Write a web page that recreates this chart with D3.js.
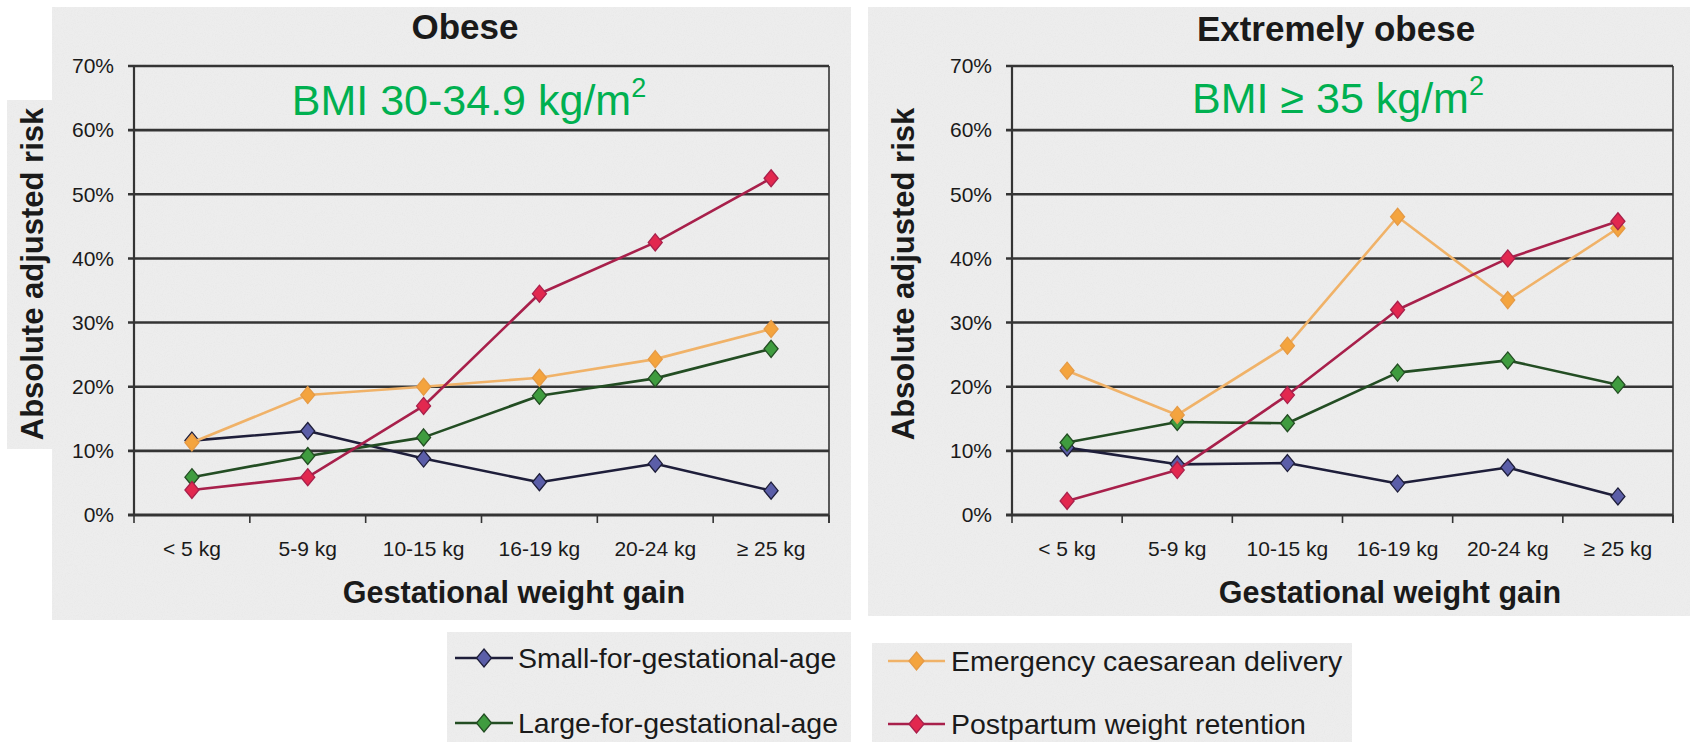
<!DOCTYPE html>
<html>
<head>
<meta charset="utf-8">
<script src="https://cdn.jsdelivr.net/npm/d3@7"></script>
<style>
  html, body { margin: 0; padding: 0; background: #ffffff; }
  svg { display: block; }
  text { font-family: "Liberation Sans", Arial, Helvetica, sans-serif; fill: #1a1a1a; }
</style>
</head>
<body>
<svg id="chart" width="1690" height="742"></svg>
<script>
// Gestational weight gain categories (x axis)
const categories = ["< 5 kg", "5-9 kg", "10-15 kg", "16-19 kg", "20-24 kg", "\u2265 25 kg"];

// Y axis ticks (absolute adjusted risk)
const yTicks = [0, 0.1, 0.2, 0.3, 0.4, 0.5, 0.6, 0.7];

// Outcome series names
const seriesNames = [
  "Small-for-gestational-age",
  "Large-for-gestational-age",
  "Emergency caesarean delivery",
  "Postpartum weight retention"
];

// Obese, BMI 30-34.9 kg/m2 (risk in %)
const obeseSGA  = [11.6, 13.1, 8.8, 5.1, 8.0, 3.8];
const obeseLGA  = [5.9, 9.2, 12.1, 18.6, 21.3, 25.9];
const obeseECS  = [11.3, 18.7, 20.0, 21.4, 24.3, 29.0];
const obesePWR  = [3.9, 5.9, 17.0, 34.5, 42.5, 52.5];

// Extremely obese, BMI >= 35 kg/m2 (risk in %)
const extremeSGA = [10.5, 7.9, 8.1, 4.9, 7.4, 2.9];
const extremeLGA = [11.3, 14.5, 14.3, 22.2, 24.1, 20.3];
const extremeECS = [22.5, 15.6, 26.4, 46.5, 33.5, 44.7];
const extremePWR = [2.2, 7.0, 18.7, 32.0, 40.0, 45.8];

// Series styling: line colour, marker fill
const lineColors   = ["#1e1e3a", "#234d23", "#f0b268", "#a8204b"];
const markerFills  = ["#5b5ea8", "#3f9c3f", "#f4a43e", "#e2284f"];
const markerStroke = ["#1e1e3a", "#234d23", "#e59a45", "#a8204b"];

const panels = [
  {
    title: "Obese",
    bmi: "BMI 30-34.9 kg/m",
    series: [obeseSGA, obeseLGA, obeseECS, obesePWR],
    bg: { x: 52, y: 7, w: 799, h: 613 },
    labelBox: { x: 7, y: 100, w: 45, h: 349 },
    plot: { x0: 134, x1: 829, y0: 515, y1: 66 },
    titleX: 465, titleY: 39,
    bmiX: 469, bmiY: 115,
    yLabelX: 43,
    xTitleX: 514
  },
  {
    title: "Extremely obese",
    bmi: "BMI \u2265 35 kg/m",
    series: [extremeSGA, extremeLGA, extremeECS, extremePWR],
    bg: { x: 868, y: 7, w: 822, h: 609 },
    labelBox: null,
    plot: { x0: 1012, x1: 1673, y0: 515, y1: 66 },
    titleX: 1336, titleY: 41,
    bmiX: 1338, bmiY: 113,
    yLabelX: 914,
    xTitleX: 1390
  }
];

const svg = d3.select("#chart");

// Paper grain texture for the grey panels
const defs = svg.append("defs");
const grain = defs.append("filter").attr("id", "grain").attr("x", 0).attr("y", 0).attr("width", 1).attr("height", 1);
grain.append("feTurbulence").attr("type", "fractalNoise").attr("baseFrequency", 0.9).attr("numOctaves", 2).attr("seed", 4).attr("result", "noise");
grain.append("feColorMatrix").attr("in", "noise").attr("type", "matrix")
  .attr("values", "0 0 0 0 0.55  0 0 0 0 0.55  0 0 0 0 0.55  0 0 0 -1.3 0.75");

function paperRect(g, x, y, w, h) {
  g.append("rect").attr("x", x).attr("y", y).attr("width", w).attr("height", h).attr("fill", "#ededed");
  g.append("rect").attr("x", x).attr("y", y).attr("width", w).attr("height", h)
    .attr("fill", "#000").attr("filter", "url(#grain)").attr("opacity", 0.18);
}

const diamond = (hw, hh) => `M0,${-hh}L${hw},0L0,${hh}L${-hw},0Z`;

panels.forEach(p => {
  const g = svg.append("g");
  paperRect(g, p.bg.x, p.bg.y, p.bg.w, p.bg.h);
  if (p.labelBox) paperRect(g, p.labelBox.x, p.labelBox.y, p.labelBox.w, p.labelBox.h);

  const x = d3.scaleBand().domain(categories).range([p.plot.x0, p.plot.x1]).padding(0);
  const y = d3.scaleLinear().domain([0, 0.7]).range([p.plot.y0, p.plot.y1]);
  const cx = c => x(c) + x.bandwidth() / 2;

  // Horizontal gridlines (extending slightly past the axis as tick marks)
  g.append("g").selectAll("line").data(yTicks).join("line")
    .attr("x1", p.plot.x0 - 6).attr("x2", p.plot.x1)
    .attr("y1", d => y(d)).attr("y2", d => y(d))
    .attr("stroke", "#343434").attr("stroke-width", d => d === 0 ? 3 : 2.6);

  // Left and right plot borders
  g.append("line").attr("x1", p.plot.x0).attr("x2", p.plot.x0)
    .attr("y1", y(0.7)).attr("y2", y(0)).attr("stroke", "#343434").attr("stroke-width", 2.2);
  g.append("line").attr("x1", p.plot.x1).attr("x2", p.plot.x1)
    .attr("y1", y(0.7)).attr("y2", y(0) + 8).attr("stroke", "#343434").attr("stroke-width", 1.6);

  // Category boundary ticks below the x axis
  g.append("g").selectAll("line").data(d3.range(categories.length + 1)).join("line")
    .attr("x1", i => p.plot.x0 + i * x.bandwidth()).attr("x2", i => p.plot.x0 + i * x.bandwidth())
    .attr("y1", y(0)).attr("y2", y(0) + 8)
    .attr("stroke", "#343434").attr("stroke-width", 1.6);

  // Y axis labels
  const yAxis = d3.axisLeft(y).tickValues(yTicks).tickFormat(d3.format(".0%")).tickSize(0).tickPadding(20);
  const ya = g.append("g").attr("transform", `translate(${p.plot.x0},0)`).call(yAxis);
  ya.select(".domain").remove();
  ya.selectAll("text").attr("font-size", 21).attr("fill", "#2a2a2a")
    .style("font-family", '"Liberation Sans", Arial, sans-serif');

  // X axis category labels
  const xAxis = d3.axisBottom(x).tickSize(0).tickPadding(0);
  const xa = g.append("g").attr("transform", `translate(0,${y(0)})`).call(xAxis);
  xa.select(".domain").remove();
  xa.selectAll("text").attr("font-size", 21).attr("fill", "#2a2a2a").attr("y", 41).attr("dy", 0)
    .style("font-family", '"Liberation Sans", Arial, sans-serif');

  // Series lines and diamond markers
  p.series.forEach((vals, si) => {
    const pts = categories.map((c, i) => [cx(c), y(vals[i] / 100)]);
    g.append("path").attr("d", d3.line()(pts))
      .attr("fill", "none").attr("stroke", lineColors[si]).attr("stroke-width", 2.6)
      .attr("stroke-linejoin", "round");
    g.append("g").selectAll("path").data(pts).join("path")
      .attr("transform", d => `translate(${d[0]},${d[1]})`)
      .attr("d", diamond(7, 8.5))
      .attr("fill", markerFills[si]).attr("stroke", markerStroke[si]).attr("stroke-width", 1.3);
  });

  // Panel title
  g.append("text").attr("x", p.titleX).attr("y", p.titleY).attr("text-anchor", "middle")
    .attr("font-size", 35).attr("font-weight", "bold").text(p.title);

  // BMI annotation with superscript
  const bmi = g.append("text").attr("x", p.bmiX).attr("y", p.bmiY).attr("text-anchor", "middle")
    .attr("font-size", 43).style("fill", "#00b050");
  bmi.append("tspan").text(p.bmi);
  bmi.append("tspan").attr("font-size", 27).attr("dy", -18).text("2");

  // Y axis title
  g.append("text").attr("transform", `translate(${p.yLabelX},274) rotate(-90)`)
    .attr("text-anchor", "middle").attr("font-size", 31).attr("font-weight", "bold")
    .text("Absolute adjusted risk");

  // X axis title
  g.append("text").attr("x", p.xTitleX).attr("y", 603).attr("text-anchor", "middle")
    .attr("font-size", 30.5).attr("font-weight", "bold").text("Gestational weight gain");
});

// Legend: two boxes, two entries each
const legendBoxes = [
  { x: 447, y: 632, w: 404, h: 110, lineX0: 455, lineX1: 513, textX: 518, rows: [658, 723], items: [0, 1] },
  { x: 872, y: 643, w: 480, h: 99, lineX0: 888, lineX1: 945, textX: 951, rows: [661, 724], items: [2, 3] }
];

legendBoxes.forEach(b => {
  const g = svg.append("g");
  paperRect(g, b.x, b.y, b.w, b.h);
  b.items.forEach((si, k) => {
    const ry = b.rows[k];
    g.append("line").attr("x1", b.lineX0).attr("x2", b.lineX1).attr("y1", ry).attr("y2", ry)
      .attr("stroke", lineColors[si]).attr("stroke-width", 2.6);
    g.append("path").attr("transform", `translate(${(b.lineX0 + b.lineX1) / 2},${ry})`)
      .attr("d", diamond(7.5, 9))
      .attr("fill", markerFills[si]).attr("stroke", markerStroke[si]).attr("stroke-width", 1.3);
    g.append("text").attr("x", b.textX).attr("y", ry).attr("dy", "0.35em")
      .attr("font-size", 28.5).attr("fill", "#222").text(seriesNames[si]);
  });
});
</script>
</body>
</html>
